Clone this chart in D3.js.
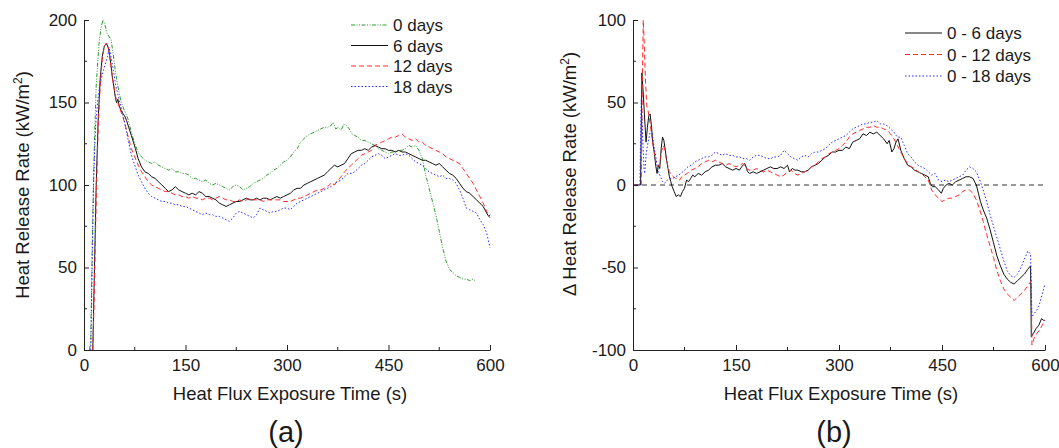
<!DOCTYPE html>
<html>
<head>
<meta charset="utf-8">
<script src="https://cdn.jsdelivr.net/npm/d3@7"></script>
<style>
  body { margin: 0; background: #fff; }
  svg { font-family: Arial, "Liberation Sans", sans-serif; }
  text { fill: #1a1a1a; }
</style>
</head>
<body>
<div id="chart"></div>
<script>
// ---- data: [time (s), value] ----
const days0 = [[8,0],[10,5],[12,60],[15,120],[18,160],[22,185],[25,195],[28,200],[31,197],[34,192],[37,190],[40,188],[43,180],[46,170],[50,160],[55,150],[60,145],[65,140],[70,132],[75,125],[80,120],[85,117],[90,115],[95,114],[100,113],[105,114],[110,112],[115,111],[120,110],[125,109],[130,110],[135,108],[140,108],[145,107],[150,107],[155,106],[160,104],[165,104],[170,103],[175,102],[180,103],[185,101],[190,100],[195,101],[200,100],[205,99],[210,98],[215,97],[220,99],[225,100],[230,99],[235,97],[240,98],[245,99],[250,101],[255,102],[260,103],[265,104],[270,106],[275,107],[280,109],[285,110],[290,112],[295,114],[300,115],[305,117],[310,120],[315,122],[320,126],[325,128],[330,130],[335,131],[340,132],[345,133],[350,134],[355,135],[360,135],[365,136],[368,138],[372,134],[376,135],[380,133],[384,137],[388,136],[392,134],[396,131],[400,130],[405,129],[410,127],[415,127],[420,126],[425,125],[430,124],[435,122],[440,121],[445,120],[450,119],[455,120],[460,120],[465,121],[470,121],[475,122],[480,124],[485,123],[490,124],[495,121],[500,116],[505,106],[510,98],[515,90],[520,82],[525,72],[530,62],[535,54],[540,49],[545,47],[550,45],[555,44],[560,43],[565,43],[570,42],[575,43],[578,42]];

const days6 = [[13,0],[15,40],[18,100],[21,140],[24,165],[27,178],[30,184],[33,186],[36,183],[38,178],[40,172],[42,165],[44,160],[46,154],[48,150],[50,152],[52,148],[55,145],[58,143],[60,142],[63,139],[66,135],[70,130],[73,126],[76,122],[80,116],[85,111],[90,108],[95,107],[100,105],[105,104],[110,102],[115,100],[120,98],[125,96],[130,97],[135,99],[140,97],[145,96],[150,95],[155,94],[160,95],[165,94],[170,96],[175,95],[180,93],[185,93],[190,92],[195,91],[200,89],[205,88],[210,87],[215,88],[220,89],[225,90],[230,90],[235,91],[240,92],[245,91],[250,91],[255,92],[260,91],[265,92],[270,92],[275,91],[280,92],[285,93],[290,92],[295,93],[300,94],[305,95],[310,97],[315,98],[320,98],[325,100],[330,101],[335,102],[340,103],[345,104],[350,105],[355,106],[360,108],[365,110],[370,112],[375,111],[380,112],[385,113],[390,116],[395,119],[400,120],[405,121],[410,121],[415,122],[420,121],[425,123],[430,124],[435,123],[440,122],[445,122],[450,121],[455,121],[460,120],[465,121],[470,120],[475,120],[480,119],[485,118],[490,117],[495,116],[500,115],[505,115],[510,114],[515,113],[520,112],[525,113],[530,111],[535,109],[540,107],[545,106],[550,104],[555,101],[560,98],[565,96],[570,95],[575,93],[580,91],[585,89],[590,87],[595,83],[598,81],[600,82]];

const days12 = [[13,0],[15,30],[18,90],[21,135],[24,160],[27,176],[30,184],[33,186],[35,185],[38,178],[41,168],[44,160],[47,153],[50,150],[53,146],[56,143],[60,138],[63,133],[66,128],[70,122],[75,117],[80,112],[85,108],[90,105],[95,102],[100,100],[105,99],[110,98],[115,97],[120,96],[125,96],[130,95],[135,94],[140,94],[145,93],[150,93],[155,92],[160,93],[165,92],[170,92],[175,91],[180,92],[185,92],[190,91],[195,92],[200,93],[205,92],[210,91],[215,91],[220,90],[225,90],[230,91],[235,90],[240,91],[245,92],[250,91],[255,91],[260,91],[265,90],[270,91],[275,91],[280,91],[285,91],[290,91],[295,90],[300,90],[305,90],[310,91],[315,92],[320,92],[325,93],[330,94],[335,95],[340,96],[345,97],[350,97],[355,98],[360,99],[365,101],[370,100],[375,103],[380,105],[385,108],[390,110],[395,112],[400,114],[405,116],[410,118],[415,119],[420,120],[425,121],[430,124],[435,125],[440,126],[445,127],[450,128],[455,129],[460,129],[465,130],[470,131],[475,129],[480,128],[485,127],[490,128],[495,126],[500,126],[505,124],[510,123],[515,122],[520,121],[525,120],[530,119],[535,117],[540,116],[545,115],[550,114],[555,113],[560,110],[565,107],[570,104],[575,101],[580,97],[585,93],[590,89],[595,84],[600,80]];

const days18 = [[10,0],[12,50],[14,100],[17,135],[20,150],[23,160],[26,165],[29,170],[32,174],[35,178],[37,183],[39,180],[41,175],[44,168],[47,160],[50,155],[53,150],[56,145],[60,138],[63,132],[66,126],[70,118],[75,112],[80,106],[85,102],[90,98],[95,95],[100,93],[105,92],[110,91],[115,90],[120,90],[125,89],[130,89],[135,88],[140,88],[145,87],[150,87],[155,86],[160,85],[165,84],[170,83],[175,82],[180,83],[185,82],[190,82],[195,81],[200,81],[205,80],[210,79],[215,78],[220,80],[225,83],[230,84],[235,83],[240,82],[245,81],[250,80],[255,82],[260,86],[265,85],[270,84],[275,83],[280,84],[285,84],[290,85],[295,86],[300,86],[305,85],[310,87],[315,89],[320,90],[325,91],[330,92],[335,93],[340,94],[345,95],[350,96],[355,97],[360,98],[365,99],[370,101],[375,102],[380,103],[385,105],[390,107],[395,107],[400,108],[405,110],[410,112],[415,113],[420,115],[425,117],[430,118],[435,119],[440,118],[445,116],[450,117],[455,118],[460,119],[465,118],[470,118],[475,119],[480,118],[485,116],[490,114],[495,113],[500,112],[505,110],[510,108],[515,107],[520,106],[525,105],[530,106],[535,104],[540,104],[545,103],[550,101],[555,97],[560,92],[565,86],[570,85],[575,84],[580,83],[585,79],[590,76],[595,71],[600,62]];

const delta6 = [[0,-1],[3,0],[11,0],[13,68],[15,55],[17,40],[19,26],[21,35],[23,42],[25,43],[27,35],[29,25],[31,20],[33,12],[35,7],[37,12],[39,10],[41,22],[43,29],[45,27],[47,21],[49,15],[51,10],[53,5],[55,2],[57,-1],[60,-4],[63,-7],[66,-6],[69,-7],[72,-4],[75,-2],[78,3],[81,2],[84,4],[87,6],[90,5],[95,7],[100,6],[105,8],[110,9],[115,11],[120,12],[125,12],[130,13],[135,11],[140,10],[145,9],[150,10],[155,9],[160,12],[163,13],[167,8],[170,7],[175,8],[180,7],[185,8],[190,9],[195,10],[200,11],[205,10],[210,10],[215,11],[220,10],[225,12],[228,8],[232,10],[236,9],[240,9],[245,8],[250,8],[255,9],[260,11],[265,12],[270,13],[275,15],[280,17],[285,18],[290,20],[295,20],[300,21],[305,21],[310,23],[315,22],[320,26],[325,27],[330,28],[335,31],[340,30],[345,32],[350,31],[355,32],[360,30],[365,28],[370,25],[373,27],[377,20],[380,22],[383,26],[386,28],[390,21],[395,16],[400,12],[405,11],[410,9],[415,8],[420,7],[425,6],[430,5],[433,1],[436,-1],[440,-1],[445,-3],[449,-5],[452,-2],[456,0],[460,1],[465,0],[470,2],[475,3],[480,4],[485,5],[490,5],[495,4],[500,0],[503,-5],[506,-10],[510,-15],[515,-20],[520,-27],[525,-35],[530,-43],[535,-49],[540,-54],[545,-57],[550,-59],[555,-60],[560,-58],[565,-56],[570,-54],[575,-51],[579,-49],[580,-92],[583,-90],[587,-87],[591,-85],[595,-81],[598,-82],[600,-82]];

const delta12 = [[0,0],[12,0],[14,75],[15,100],[16,90],[18,65],[20,48],[22,45],[24,40],[26,34],[28,28],[30,22],[32,17],[34,13],[36,11],[38,12],[40,16],[42,21],[44,24],[46,22],[48,17],[50,13],[53,8],[56,6],[59,5],[62,4],[65,4],[68,3],[71,5],[75,6],[79,7],[85,9],[90,10],[95,11],[100,13],[105,14],[110,15],[115,14],[120,15],[125,14],[130,13],[135,12],[140,13],[145,12],[150,11],[155,12],[160,13],[165,10],[170,9],[175,9],[180,10],[185,9],[190,8],[195,9],[200,8],[205,7],[210,6],[215,5],[220,6],[225,8],[230,9],[235,7],[240,6],[245,7],[250,8],[255,9],[260,11],[265,12],[270,14],[275,16],[280,17],[285,19],[290,20],[295,21],[300,22],[305,24],[310,26],[315,29],[320,31],[325,32],[330,33],[335,34],[340,35],[345,35],[350,36],[355,35],[360,35],[365,34],[370,33],[375,31],[380,28],[385,24],[390,20],[395,16],[400,13],[405,11],[410,10],[415,8],[420,7],[425,5],[430,3],[435,-3],[440,-6],[445,-8],[450,-10],[455,-9],[460,-8],[465,-8],[470,-7],[475,-6],[480,-4],[485,-3],[490,-3],[495,-5],[500,-9],[505,-15],[510,-22],[515,-30],[520,-37],[525,-44],[530,-52],[535,-58],[540,-63],[545,-66],[550,-68],[555,-70],[560,-68],[565,-66],[570,-64],[575,-61],[580,-58],[581,-97],[584,-93],[588,-90],[592,-88],[596,-85],[600,-82]];

const delta18 = [[0,0],[10,0],[12,52],[14,30],[16,10],[17,7],[19,18],[21,24],[23,28],[25,32],[27,33],[29,28],[31,22],[33,18],[35,12],[37,8],[40,5],[43,2],[46,1],[50,3],[54,4],[58,4],[62,5],[66,6],[70,7],[75,9],[80,11],[85,12],[90,14],[95,15],[100,16],[105,17],[110,17],[115,18],[120,20],[125,19],[130,18],[135,19],[140,18],[145,18],[150,17],[155,17],[160,16],[165,16],[170,15],[175,17],[180,18],[185,18],[190,17],[195,16],[200,16],[205,17],[210,17],[215,18],[220,21],[225,19],[230,17],[235,16],[240,15],[245,17],[250,18],[255,17],[260,19],[265,20],[270,20],[275,21],[280,22],[285,24],[290,26],[295,27],[300,28],[305,29],[310,30],[315,32],[320,34],[325,35],[330,36],[335,37],[340,37],[345,38],[350,38],[355,39],[360,37],[365,37],[370,36],[375,34],[380,32],[385,29],[390,29],[395,24],[400,19],[405,17],[410,14],[415,12],[420,11],[425,10],[430,8],[435,6],[440,7],[445,3],[450,2],[455,3],[460,2],[465,3],[470,4],[475,5],[480,6],[485,9],[490,11],[495,10],[500,8],[505,3],[510,-3],[515,-10],[520,-18],[525,-25],[530,-32],[535,-39],[540,-46],[545,-52],[550,-55],[555,-56],[560,-54],[565,-50],[570,-45],[575,-40],[579,-42],[581,-80],[584,-78],[588,-76],[592,-72],[596,-66],[600,-60]];

const xTicks = [0, 150, 300, 450, 600];
const xMinor = [75, 225, 375, 525];
const yTicksA = [0, 50, 100, 150, 200];
const yMinorA = [25, 75, 125, 175];
const yTicksB = [-100, -50, 0, 50, 100];
const yMinorB = [-75, -25, 25, 75];

const svg = d3.select("#chart")
    .append("svg")
    .attr("width", 1059)
    .attr("height", 448);

// draw one panel
function panel(opt) {
    const x = d3.scaleLinear().domain([0, 600]).range([opt.x0, opt.x1]);
    const y = d3.scaleLinear().domain(opt.yDomain).range([350, 20]);
    const g = svg.append("g");

    const line = d3.line()
        .x(d => x(d[0]))
        .y(d => y(d[1]));

    if (opt.zero) {
        g.append("line")
            .attr("x1", x(0)).attr("x2", x(600))
            .attr("y1", y(0)).attr("y2", y(0))
            .attr("stroke", "#333")
            .attr("stroke-width", 1)
            .attr("stroke-dasharray", "5,4");
    }

    opt.series.forEach(s => {
        g.append("path")
            .attr("d", line(s.data))
            .attr("fill", "none")
            .attr("stroke", s.color)
            .attr("stroke-width", s.width || 1)
            .attr("stroke-dasharray", s.dash);
    });

    // axes: ticks pointing inwards, plain hyphen for negatives
    const xAxis = d3.axisBottom(x).tickValues(xTicks).tickFormat(d => String(d))
        .tickSizeInner(-5).tickSizeOuter(0).tickPadding(9);
    const gx = g.append("g").attr("transform", `translate(0,350)`).call(xAxis);
    gx.selectAll(".tick line").attr("stroke", "#222");
    gx.select(".domain").attr("stroke", "#222");
    gx.selectAll("text").attr("font-size", 17).style("fill", "#1a1a1a");
    gx.selectAll(".minor").data(xMinor).enter().append("line")
        .attr("x1", d => x(d)).attr("x2", d => x(d))
        .attr("y1", 0).attr("y2", -3).attr("stroke", "#222");

    const yAxis = d3.axisLeft(y).tickValues(opt.yTicks).tickFormat(d => String(d))
        .tickSizeInner(-5).tickSizeOuter(0).tickPadding(7);
    const gy = g.append("g").attr("transform", `translate(${opt.x0},0)`).call(yAxis);
    gy.selectAll(".tick line").attr("stroke", "#222");
    gy.select(".domain").attr("stroke", "#222");
    gy.selectAll("text").attr("font-size", 17).style("fill", "#1a1a1a");
    gy.selectAll(".minor").data(opt.yMinor).enter().append("line")
        .attr("y1", d => y(d)).attr("y2", d => y(d))
        .attr("x1", 0).attr("x2", 3).attr("stroke", "#222");

    // x title
    g.append("text")
        .attr("x", opt.xTitleX).attr("y", 400)
        .attr("text-anchor", "middle")
        .attr("font-size", 18.5)
        .text("Heat Flux Exposure Time (s)");

    // y title with superscript
    const yt = g.append("text")
        .attr("transform", `translate(${opt.yTitleX},${opt.yTitleY}) rotate(-90)`)
        .attr("text-anchor", "middle")
        .attr("font-size", 18.5);
    yt.append("tspan").text(opt.yTitle + " (kW/m");
    yt.append("tspan").attr("font-size", 12).attr("dy", -7).text("2");
    yt.append("tspan").attr("dy", 7).text(")");

    // panel letter
    g.append("text")
        .attr("x", opt.letterX).attr("y", 442)
        .attr("text-anchor", "middle")
        .attr("font-size", 29)
        .text(opt.letter);

    // legend
    const lg = g.append("g");
    opt.series.forEach((s, i) => {
        const ly = opt.legY + i * opt.legStep;
        lg.append("line")
            .attr("x1", opt.legX).attr("x2", opt.legX + 37)
            .attr("y1", ly).attr("y2", ly)
            .attr("stroke", s.color)
            .attr("stroke-width", s.width || 1)
            .attr("stroke-dasharray", s.dash);
        lg.append("text")
            .attr("x", opt.legX + 42).attr("y", ly + 6)
            .attr("font-size", 17)
            .text(s.name);
    });
}

panel({
    x0: 84, x1: 490,
    yDomain: [0, 200],
    yTicks: yTicksA, yMinor: yMinorA,
    yTitle: "Heat Release Rate",
    yTitleX: 29, yTitleY: 185,
    xTitleX: 290, letterX: 286, letter: "(a)",
    legX: 351, legY: 25, legStep: 20.5,
    series: [
        { name: "0 days", data: days0, color: "#2e9a2e", dash: "4,1.5,1,1.5,1,1.5" },
        { name: "6 days", data: days6, color: "#111" },
        { name: "12 days", data: days12, color: "#ff2a2a", dash: "5,3" },
        { name: "18 days", data: days18, color: "#2a2aff", dash: "1.5,2" }
    ]
});

panel({
    x0: 633, x1: 1045,
    yDomain: [-100, 100],
    yTicks: yTicksB, yMinor: yMinorB,
    yTitle: "\u0394 Heat Release Rate",
    yTitleX: 576, yTitleY: 174,
    xTitleX: 841, letterX: 834, letter: "(b)",
    legX: 905, legY: 33, legStep: 21.5,
    zero: true,
    series: [
        { name: "0 - 6 days", data: delta6, color: "#111" },
        { name: "0 - 12 days", data: delta12, color: "#ff2a2a", dash: "5,3" },
        { name: "0 - 18 days", data: delta18, color: "#2a2aff", dash: "1.5,2" }
    ]
});
</script>
</body>
</html>
